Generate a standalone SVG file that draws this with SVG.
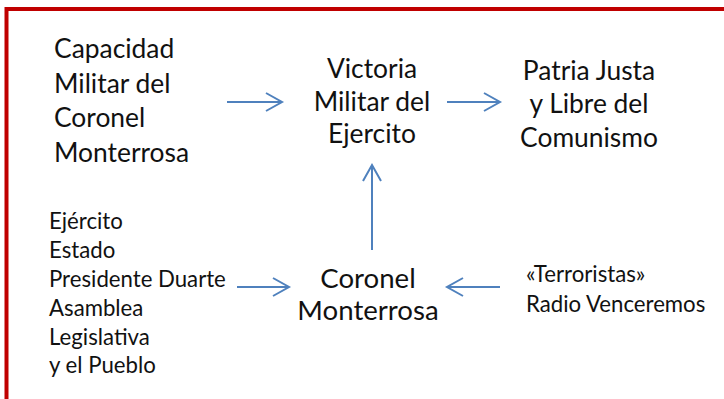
<svg xmlns="http://www.w3.org/2000/svg" width="724" height="399" viewBox="0 0 724 399">
<defs>
<marker id="ah" viewBox="0 0 20 20" refX="17" refY="10" markerWidth="20" markerHeight="20" markerUnits="userSpaceOnUse" orient="auto">
<path d="M1,1 L17,10 L1,19" fill="none" stroke="#4F81BD" stroke-width="2"/>
</marker>
<style>
.t{font-family:Lato,"Open Sans",sans-serif;fill:#111111}
.b{font-size:26.4px}
.k{font-size:27.6px}
.s{font-size:22.2px}
.m{text-anchor:middle}
.c{stroke:#4F81BD;stroke-width:2;fill:none;marker-end:url(#ah)}
</style>
</defs>
<rect width="724" height="399" fill="#ffffff"/>
<path d="M6.5,399 V9 H724" fill="none" stroke="#C00000" stroke-width="4"/>
<g id="capacidad">
<text class="t b" x="54" y="58">Capacidad</text>
<text class="t b" x="54" y="93">Militar del</text>
<text class="t b" x="54" y="127">Coronel</text>
<text class="t b" x="54" y="162">Monterrosa</text>
</g>
<g id="victoria">
<text class="t b m" x="372" y="78">Victoria</text>
<text class="t b m" x="372" y="111">Militar del</text>
<text class="t b m" x="372" y="143">Ejercito</text>
</g>
<g id="patria">
<text class="t b m" x="589" y="80">Patria Justa</text>
<text class="t b m" x="589" y="113">y Libre del</text>
<text class="t b m" x="589" y="147">Comunismo</text>
</g>
<g id="coronel">
<text class="t k m" x="368" y="288">Coronel</text>
<text class="t k m" x="368" y="320">Monterrosa</text>
</g>
<g id="aliados">
<text class="t s" x="49" y="229">Ejército</text>
<text class="t s" x="49" y="258">Estado</text>
<text class="t s" x="49" y="287">Presidente Duarte</text>
<text class="t s" x="49" y="316">Asamblea</text>
<text class="t s" x="49" y="345">Legislativa</text>
<text class="t s" x="49" y="373">y el Pueblo</text>
</g>
<g id="enemigos">
<text class="t s" x="526" y="282">«Terroristas»</text>
<text class="t s" x="526" y="312">Radio Venceremos</text>
</g>
<g id="connectors">
<line class="c" x1="227" y1="102" x2="282" y2="102"/>
<line class="c" x1="447" y1="102" x2="500" y2="102"/>
<line class="c" x1="372" y1="250" x2="372" y2="165"/>
<line class="c" x1="237" y1="287" x2="289" y2="287"/>
<line class="c" x1="500" y1="287" x2="447" y2="287"/>
</g>
</svg>
